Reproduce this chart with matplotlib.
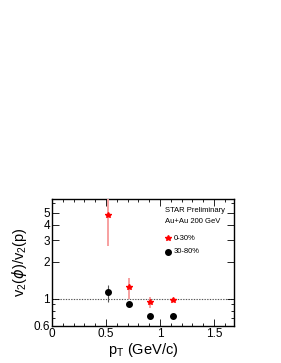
import matplotlib
matplotlib.use("Agg")
import matplotlib.pyplot as plt
from matplotlib import ticker

plt.rcParams['font.family'] = ['Liberation Sans', 'DejaVu Sans']

# 0-30% centrality (red stars)
pt_central = [0.52, 0.71, 0.905, 1.12]
ratio_central = [4.85, 1.24, 0.935, 0.975]
err_lo_central = [2.15, 0.24, 0.10, 0.035]
err_hi_central = [3.0, 0.25, 0.105, 0.045]

# 30-80% centrality (black circles)
pt_periph = [0.52, 0.71, 0.905, 1.12]
ratio_periph = [1.125, 0.90, 0.72, 0.72]
err_lo_periph = [0.18, 0.02, 0.015, 0.015]
err_hi_periph = [0.165, 0.02, 0.015, 0.015]

fig = plt.figure(figsize=(2.81, 3.63), dpi=100)
ax = fig.add_axes([52/281, 1 - 326/363, (234-52)/281, (326-199)/363])

ax.axhline(1.0, color='#555555', ls=(0, (1.2, 1.2)), lw=0.8, zorder=1)

ax.errorbar(pt_central, ratio_central, yerr=[err_lo_central, err_hi_central],
            fmt='*', color='red', ecolor='#f7a0a0', elinewidth=1.4,
            markersize=3.8, capsize=0, zorder=3)
ax.errorbar(pt_periph, ratio_periph, yerr=[err_lo_periph, err_hi_periph],
            fmt='o', color='black', ecolor='#555555', elinewidth=0.8,
            markersize=4, capsize=0, zorder=3)

ax.set_yscale('log')
ax.set_xlim(0, 1.685)
ax.set_ylim(0.6, 6.5)

ax.xaxis.set_major_locator(ticker.MultipleLocator(0.5))
ax.xaxis.set_minor_locator(ticker.MultipleLocator(0.1))
ax.xaxis.set_major_formatter(ticker.FuncFormatter(lambda v, p: '%g' % v))
yticks = [0.6, 1, 2, 3, 4, 5]
ax.yaxis.set_major_locator(ticker.FixedLocator(yticks))
ax.yaxis.set_major_formatter(ticker.FixedFormatter(['0.6', '1', '2', '3', '4', '5']))
ax.yaxis.set_minor_locator(ticker.FixedLocator([0.7, 0.8, 0.9, 6]))
ax.yaxis.set_minor_formatter(ticker.NullFormatter())

ax.tick_params(which='both', direction='in', top=True, right=True, labelsize=8.5, width=0.6, pad=1.5)
ax.tick_params(which='major', length=5)
ax.tick_params(which='minor', length=2.5)
for s in ax.spines.values():
    s.set_linewidth(1.0)

ax.set_xlabel(r'p$_\mathregular{T}$ (GeV/c)', fontsize=10.5, labelpad=1)
ax.set_ylabel(r'v$_\mathregular{2}$($\phi$)/v$_\mathregular{2}$(p)', fontsize=10.5, labelpad=3)

ax.text(0.62, 0.895, 'STAR Preliminary', transform=ax.transAxes, fontsize=5.5)
ax.text(0.62, 0.81, 'Au+Au 200 GeV', transform=ax.transAxes, fontsize=5.5)
ax.plot([0.635], [0.69], '*', color='red', markersize=3.8, transform=ax.transAxes)
ax.text(0.67, 0.69, '0-30%', transform=ax.transAxes, fontsize=5.5, va='center')
ax.plot([0.635], [0.585], 'o', color='black', markersize=4, transform=ax.transAxes)
ax.text(0.67, 0.585, '30-80%', transform=ax.transAxes, fontsize=5.5, va='center')

fig.savefig('out.png', dpi=100)
